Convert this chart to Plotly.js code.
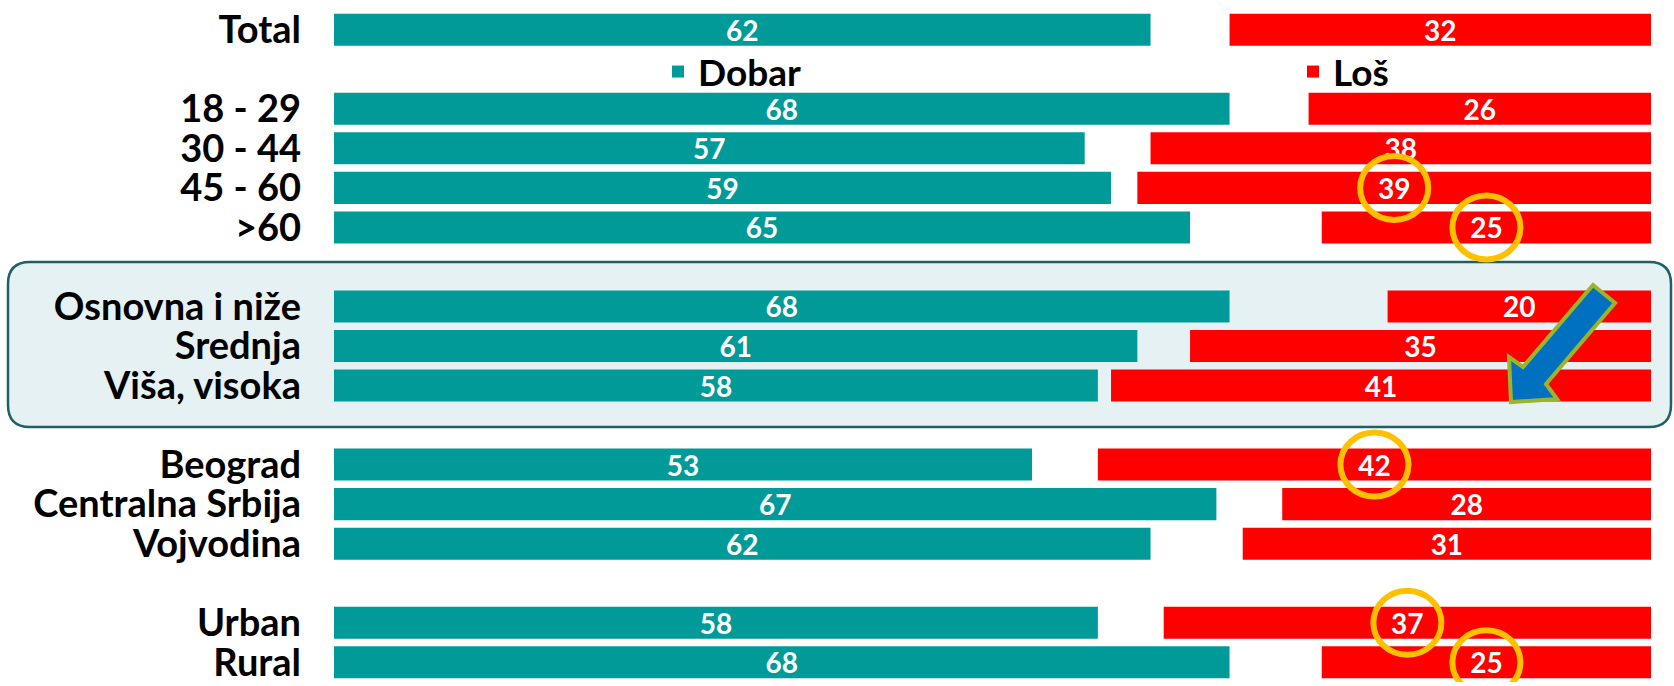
<!DOCTYPE html>
<html>
<head>
<meta charset="utf-8">
<script src="https://cdn.plot.ly/plotly-3.0.1.min.js"></script>
<style>html,body{margin:0;padding:0;background:#fff;}#chart{width:1674px;height:686px;}</style>
</head>
<body>
<div id="chart"></div>
<script>
// Data (spacer rows hold null)
const categories = ['Total', ' ', '18 - 29', '30 - 44', '45 - 60', '>60', '  ',
  'Osnovna i niže', 'Srednja', 'Viša, visoka', '   ',
  'Beograd', 'Centralna Srbija', 'Vojvodina', '    ', 'Urban', 'Rural'];
const dobar = [62, null, 68, 57, 59, 65, null, 68, 61, 58, null, 53, 67, 62, null, 58, 68];
const los   = [32, null, 26, 38, 39, 25, null, 20, 35, 41, null, 42, 28, 31, null, 37, 25];
const seriesNames = ['Dobar', 'Loš'];
const circled = ['45 - 60', '>60', 'Beograd', 'Urban', 'Rural'];

const TEAL = '#009B98', RED = '#FF0000';
const W = 1674, H = 686;
const M = {l: 334, r: 23, t: 10, b: 4, autoexpand: false};
const PW = W - M.l - M.r, PH = H - M.t - M.b;
const px = x => (x - M.l) / PW;
const py = y => (H - M.b - y) / PH;

const FAMILY = 'Lato, "Open Sans", sans-serif';
const labelFont = {family: FAMILY, size: 28, color: '#ffffff', weight: 'bold'};

const traces = [
  {
    type: 'bar', orientation: 'h', name: seriesNames[0],
    y: categories, x: dobar, xaxis: 'x', yaxis: 'y',
    marker: {color: TEAL}, texttemplate: '%{x}', textposition: 'inside',
    insidetextanchor: 'middle', textangle: 0, constraintext: 'none',
    insidetextfont: labelFont, hoverinfo: 'skip', legend: 'legend'
  },
  {
    type: 'bar', orientation: 'h', name: seriesNames[1],
    y: categories, x: los, xaxis: 'x2', yaxis: 'y',
    marker: {color: RED}, texttemplate: '%{x}', textposition: 'inside',
    insidetextanchor: 'middle', textangle: 0, constraintext: 'none',
    insidetextfont: labelFont, hoverinfo: 'skip', legend: 'legend2'
  }
];

// Rounded highlight box (pixel geometry -> paper)
function roundRect(x0, y0, x1, y1, r) {
  const P = (x, y) => px(x) + ',' + py(y);
  return 'M' + P(x0 + r, y0) + ' L' + P(x1 - r, y0) + ' Q' + P(x1, y0) + ' ' + P(x1, y0 + r) +
    ' L' + P(x1, y1 - r) + ' Q' + P(x1, y1) + ' ' + P(x1 - r, y1) +
    ' L' + P(x0 + r, y1) + ' Q' + P(x0, y1) + ' ' + P(x0, y1 - r) +
    ' L' + P(x0, y0 + r) + ' Q' + P(x0, y0) + ' ' + P(x0 + r, y0) + ' Z';
}
const arrowPts = [[1593, 285], [1615, 303], [1546, 384], [1557, 399], [1511, 402], [1509, 357], [1523, 367]];
const arrowPath = 'M' + arrowPts.map(p => px(p[0]) + ',' + py(p[1])).join(' L') + ' Z';

const shapes = [
  {type: 'path', xref: 'paper', yref: 'paper', path: roundRect(8, 262, 1671, 427, 22),
   fillcolor: '#E5F1F2', line: {color: '#1F5F66', width: 2.5}, layer: 'below'}
];
circled.forEach(c => {
  const i = categories.indexOf(c);
  shapes.push({
    type: 'circle', xref: 'x2', yref: 'y', xsizemode: 'pixel', ysizemode: 'pixel',
    xanchor: los[i] / 2, yanchor: i, x0: -34, x1: 34, y0: -32, y1: 32,
    line: {color: '#FFC000', width: 6}, layer: 'above'
  });
});
shapes.push({type: 'path', xref: 'paper', yref: 'paper', path: arrowPath,
  fillcolor: '#0070C0', line: {color: '#9BB52A', width: 4}, layer: 'above'});

const legendFont = {family: FAMILY, size: 37, color: '#000000', weight: 'bold'};
const layout = {
  width: W, height: H,
  margin: M,
  paper_bgcolor: '#ffffff', plot_bgcolor: 'rgba(0,0,0,0)',
  barmode: 'overlay', bargap: 0.19,
  showlegend: true,
  xaxis: {range: [0, 100], visible: false, fixedrange: true},
  xaxis2: {range: [100, 0], visible: false, overlaying: 'x', fixedrange: true},
  yaxis: {
    type: 'category', range: [categories.length - 0.5, -0.5], autorange: false,
    categoryorder: 'array', categoryarray: categories,
    tickmode: 'array', tickvals: categories, ticktext: categories, automargin: false,
    showgrid: false, zeroline: false, showline: false, ticks: '',
    ticklabelstandoff: 32,
    tickfont: {family: FAMILY, size: 38, color: '#000000', weight: 'bold'}
  },
  legend: {x: px(658), y: py(72), xanchor: 'left', yanchor: 'middle', orientation: 'h',
    font: legendFont, bgcolor: 'rgba(0,0,0,0)'},
  legend2: {x: px(1293), y: py(72), xanchor: 'left', yanchor: 'middle', orientation: 'h',
    font: legendFont, bgcolor: 'rgba(0,0,0,0)'},
  shapes: shapes
};

Plotly.newPlot('chart', traces, layout, {displayModeBar: false, staticPlot: true});
</script>
</body>
</html>
